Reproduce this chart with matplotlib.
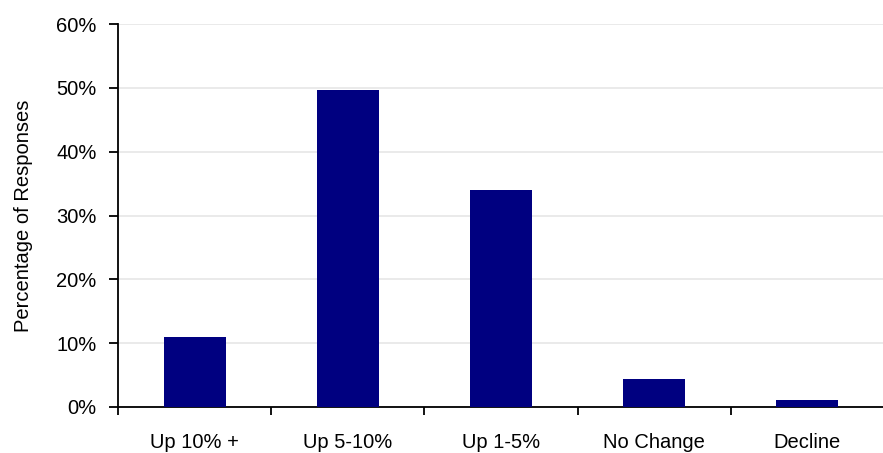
import matplotlib
matplotlib.use("Agg")
import matplotlib.pyplot as plt
from matplotlib.ticker import FixedLocator, PercentFormatter

categories = ["Up 10% +", "Up 5-10%", "Up 1-5%", "No Change", "Decline"]
values = [10.9, 49.7, 34.0, 4.4, 1.1]
yticks = [0, 10, 20, 30, 40, 50, 60]

plt.rcParams['font.family'] = ['Liberation Sans', 'DejaVu Sans']

fig = plt.figure(figsize=(8.83, 4.53), dpi=100)
ax = fig.add_axes([118/883, 1 - 407/453, (884 - 118)/883, (407 - 24)/453])

x = list(range(len(categories)))
ax.bar(x, values, width=0.405, color="#000080", zorder=3)

ax.set_xlim(-0.5, len(categories) - 0.5)
ax.set_ylim(0, 60)
ax.set_yticks(yticks)
ax.yaxis.set_major_formatter(PercentFormatter(decimals=0))
ax.grid(axis='y', color='#e8e8e8', linewidth=1.3, zorder=0)

ax.set_xticks(x)
ax.set_xticklabels(categories)
ax.xaxis.set_minor_locator(FixedLocator([i - 0.5 for i in range(len(categories) + 1)]))
ax.tick_params(axis='x', which='major', length=0, pad=19, labelsize=14.5)
ax.tick_params(axis='x', which='minor', length=6, width=1.3, direction='out', color='black')
ax.tick_params(axis='y', length=6.5, width=1.3, direction='out', labelsize=14.5, pad=9)

for s in ['top', 'right']:
    ax.spines[s].set_visible(False)
for s in ['left', 'bottom']:
    ax.spines[s].set_linewidth(1.3)
    ax.spines[s].set_color('black')

ax.set_ylabel("Percentage of Responses", fontsize=14.5)
ax.yaxis.set_label_coords((33 - 118) / 766, 0.5)

fig.savefig("out.png", dpi=100)
